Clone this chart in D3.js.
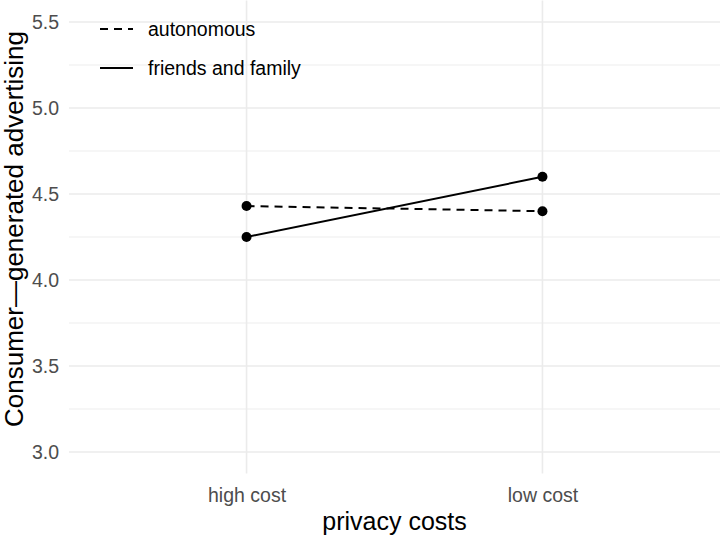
<!DOCTYPE html>
<html>
<head>
<meta charset="utf-8">
<script src="https://cdn.jsdelivr.net/npm/d3@7"></script>
<style>
  body { margin: 0; background: #fff; }
  text { font-family: "Liberation Sans", Arial, sans-serif; }
</style>
</head>
<body>
<svg id="chart" width="720" height="537"></svg>
<script>
"use strict"

// data
var categories = ["high cost", "low cost"];
var seriesNames = ["autonomous", "friends and family"];
var autonomous = [4.43, 4.40];
var friendsFamily = [4.25, 4.60];
var yTicks = [3.0, 3.5, 4.0, 4.5, 5.0, 5.5];
var yMinor = [3.25, 3.75, 4.25, 4.75, 5.25];
var dashes = ["8,6", null];

var panel = {left: 69, right: 720, top: 0.5, bottom: 473.5};

var svg = d3.select("#chart");

// discrete scale, 0.6 step expansion on each side
var x = d3.scalePoint()
	.domain(categories)
	.range([panel.left, panel.right])
	.padding(0.6);

var y = d3.scaleLinear()
	.domain([3.0 - 0.125, 5.5 + 0.125])
	.range([panel.bottom, panel.top]);

//
// grid
//
var grid = svg.append("g");
grid.selectAll("line.minor").data(yMinor).enter().append("line")
	.attr("x1", panel.left).attr("x2", panel.right)
	.attr("y1", function(d) { return y(d); })
	.attr("y2", function(d) { return y(d); })
	.attr("stroke", "#ebebeb").attr("stroke-width", 0.9);
grid.selectAll("line.major").data(yTicks).enter().append("line")
	.attr("x1", panel.left).attr("x2", panel.right)
	.attr("y1", function(d) { return y(d); })
	.attr("y2", function(d) { return y(d); })
	.attr("stroke", "#ebebeb").attr("stroke-width", 1.6);
grid.selectAll("line.vert").data(categories).enter().append("line")
	.attr("x1", function(d) { return x(d); })
	.attr("x2", function(d) { return x(d); })
	.attr("y1", panel.top).attr("y2", panel.bottom)
	.attr("stroke", "#ebebeb").attr("stroke-width", 1.6);

//
// axes (labels only)
//
var yAxis = svg.append("g")
	.attr("transform", "translate(" + (panel.left - 10) + ",0)")
	.call(d3.axisLeft(y).tickValues(yTicks).tickFormat(d3.format(".1f")).tickSize(0).tickPadding(0));
yAxis.select(".domain").remove();
yAxis.selectAll("text")
	.attr("fill", "#4d4d4d")
	.style("font-size", "19.5px");

var xAxis = svg.append("g")
	.attr("transform", "translate(0," + (panel.bottom + 10) + ")")
	.call(d3.axisBottom(x).tickSize(0).tickPadding(0));
xAxis.select(".domain").remove();
xAxis.selectAll("text")
	.attr("fill", "#4d4d4d")
	.attr("dy", "0.95em")
	.style("font-size", "19.5px");

// titles
svg.append("text")
	.attr("x", (panel.left + panel.right) / 2)
	.attr("y", 530)
	.attr("text-anchor", "middle")
	.style("font-size", "25px")
	.attr("fill", "#000")
	.text("privacy costs");

svg.append("text")
	.attr("transform", "translate(23," + ((panel.top + panel.bottom) / 2 - 8) + ") rotate(-90)")
	.attr("text-anchor", "middle")
	.style("font-size", "26px")
	.attr("fill", "#000")
	.text("Consumer\u2014generated advertising");

//
// lines and points
//
var series = [autonomous, friendsFamily];
var line = d3.line()
	.x(function(d, i) { return x(categories[i]); })
	.y(function(d) { return y(d); });

series.forEach(function(vals, s) {
	svg.append("path")
		.datum(vals)
		.attr("d", line)
		.attr("fill", "none")
		.attr("stroke", "#000")
		.attr("stroke-width", 2)
		.attr("stroke-dasharray", dashes[s]);
	svg.selectAll("circle.s" + s).data(vals).enter().append("circle")
		.attr("cx", function(d, i) { return x(categories[i]); })
		.attr("cy", function(d) { return y(d); })
		.attr("r", 5)
		.attr("fill", "#000");
});

//
// legend
//
var legend = svg.append("g").attr("transform", "translate(100,29)");
seriesNames.forEach(function(name, i) {
	var g = legend.append("g").attr("transform", "translate(0," + (i * 39) + ")");
	g.append("line")
		.attr("x1", 0).attr("x2", 33).attr("y1", 0).attr("y2", 0)
		.attr("stroke", "#000").attr("stroke-width", 2)
		.attr("stroke-dasharray", dashes[i]);
	g.append("text")
		.attr("x", 48).attr("y", 0).attr("dy", "0.35em")
		.style("font-size", "19.5px")
		.attr("fill", "#000")
		.text(name);
});
</script>
</body>
</html>
